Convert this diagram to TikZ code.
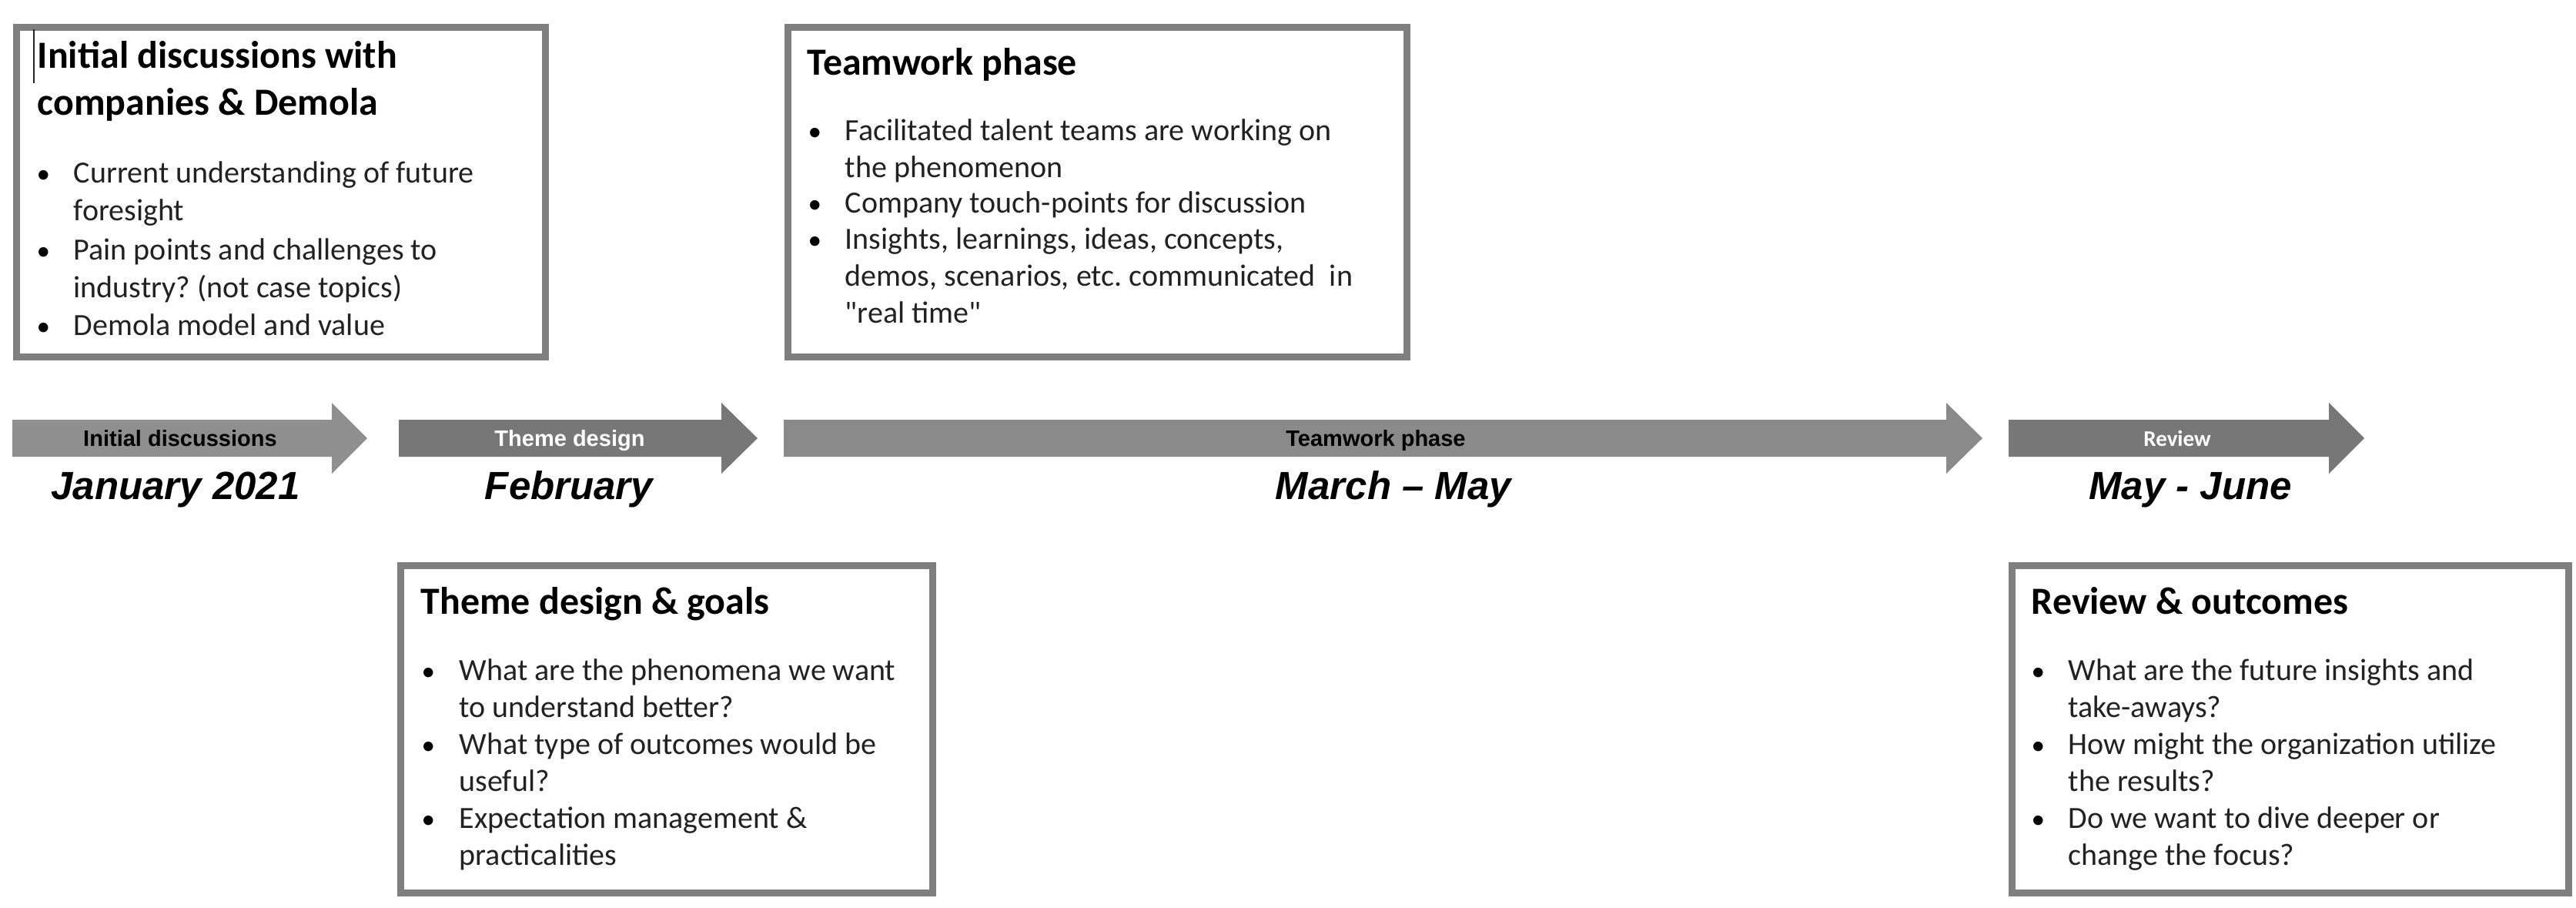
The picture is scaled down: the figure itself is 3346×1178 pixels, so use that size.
\documentclass[tikz,border=0pt]{standalone}
\usepackage{fontspec}
\newfontfamily\carl{Carlito}
\newfontfamily\arialf{Liberation Sans}
\definecolor{boxgray}{HTML}{7F7F7F}
\definecolor{txtgray}{HTML}{222222}
\definecolor{aone}{HTML}{8F8F8F}
\definecolor{atwo}{HTML}{777777}
\definecolor{athree}{HTML}{8A8A8A}
\definecolor{afour}{HTML}{777777}
\newcommand\tlarrow[4]{\fill[#4] (#1,545) -- (#2,545) -- (#2,523) -- (#3,569) -- (#2,615) -- (#2,593) -- (#1,593) -- cycle;}
\frenchspacing
\begin{document}
\begin{tikzpicture}[x=0.01cm,y=-0.01cm,
  box/.style={draw=boxgray, line width=2.56pt, fill=white, inner sep=0pt, anchor=north west},
  head/.style={anchor=base west, inner sep=0pt, font=\carl\bfseries\fontsize{14.2pt}{17.6pt}\selectfont},
  item/.style={anchor=base west, inner sep=0pt, text=txtgray, font=\carl\fontsize{11.38pt}{13.66pt}\selectfont},
  itemw/.style={anchor=base west, inner sep=0pt, text=txtgray, font=\carl\fontsize{11.38pt}{14.0pt}\selectfont},
  bul/.style={anchor=base west, inner sep=0pt, font=\carl\fontsize{10pt}{12pt}\selectfont},
  date/.style={anchor=base, inner sep=0pt, font=\arialf\bfseries\itshape\fontsize{14.5pt}{17pt}\selectfont},
  alabel/.style={anchor=base, inner sep=0pt, font=\arialf\bfseries\fontsize{8.25pt}{10pt}\selectfont}]
\useasboundingbox (0,0) rectangle (3346,1178);

% timeline arrows
\tlarrow{16}{431}{477}{aone}
\tlarrow{518}{937}{984}{atwo}
\tlarrow{1018}{2528}{2575}{athree}
\tlarrow{2609}{3025}{3071}{afour}
\node[alabel] (l1) at (234,579) {Initial discussions};
\node[alabel, text=white] (l2) at (740,579) {Theme design};
\node[alabel] (l3) at (1787,579) {Teamwork phase};
\node[anchor=base, inner sep=0pt, text=white, font=\carl\bfseries\fontsize{8.25pt}{10pt}\selectfont] (l4) at (2828,579) {Review};

% dates
\node[date] (d1) at (228,648) {January 2021};
\node[date] (d2) at (739,648) {February};
\node[date] (d3) at (1810,648) {March – May};
\node[date] (d4) at (2845,648) {May - June};

% box 1
\node[box, minimum width=6.87cm, minimum height=4.28cm] (box1) at (17,31) {};
\draw[line width=0.6pt, color=txtgray] (44,38) -- (44,108);
\node[head] (h1) at (48,88) {\parbox[t]{6.5cm}{Initial discussions with\\companies \& Demola}};
\node[bul] (b11) at (47,237) {•};
\node[itemw] (i11) at (95,237) {\parbox[t]{6cm}{Current understanding of future\\foresight}};
\node[bul] (b12) at (47,337) {•};
\node[itemw] (i12) at (95,337) {\parbox[t]{6cm}{Pain points and challenges to\\industry? (not case topics)}};
\node[bul] (b13) at (47,435) {•};
\node[itemw] (i13) at (95,435) {Demola model and value};

% box 2
\node[box, minimum width=8.04cm, minimum height=4.28cm] (box2) at (1019,31) {};
\node[head] (h2) at (1048,97) {Teamwork phase};
\node[bul] (b21) at (1049,182) {•};
\node[item] (i21) at (1097,182) {\parbox[t]{7.2cm}{Facilitated talent teams are working on\\the phenomenon}};
\node[bul] (b22) at (1049,276) {•};
\node[item] (i22) at (1097,276) {Company touch-points for discussion};
\node[bul] (b23) at (1049,323) {•};
\node[item] (i23) at (1097,323) {\parbox[t]{7.2cm}{Insights, learnings, ideas, concepts,\\demos, scenarios, etc. communicated\ \ in\\"real time"}};

% box 3
\node[box, minimum width=6.91cm, minimum height=4.25cm] (box3) at (516,730) {};
\node[head] (h3) at (546,797) {Theme design \& goals};
\node[bul] (b31) at (547,883) {•};
\node[item] (i31) at (596,883) {\parbox[t]{6.2cm}{What are the phenomena we want\\to understand better?}};
\node[bul] (b32) at (547,979) {•};
\node[item] (i32) at (596,979) {\parbox[t]{6.2cm}{What type of outcomes would be\\useful?}};
\node[bul] (b33) at (547,1075) {•};
\node[item] (i33) at (596,1075) {\parbox[t]{6.2cm}{Expectation management \&\\practicalities}};

% box 4
\node[box, minimum width=7.23cm, minimum height=4.25cm] (box4) at (2609,730) {};
\node[head] (h4) at (2638,797) {Review \& outcomes};
\node[bul] (b41) at (2638,883) {•};
\node[item] (i41) at (2686,883) {\parbox[t]{6.4cm}{What are the future insights and\\take-aways?}};
\node[bul] (b42) at (2638,979) {•};
\node[item] (i42) at (2686,979) {\parbox[t]{6.4cm}{How might the organization utilize\\the results?}};
\node[bul] (b43) at (2638,1075) {•};
\node[item] (i43) at (2686,1075) {\parbox[t]{6.4cm}{Do we want to dive deeper or\\change the focus?}};
\end{tikzpicture}
\end{document}
